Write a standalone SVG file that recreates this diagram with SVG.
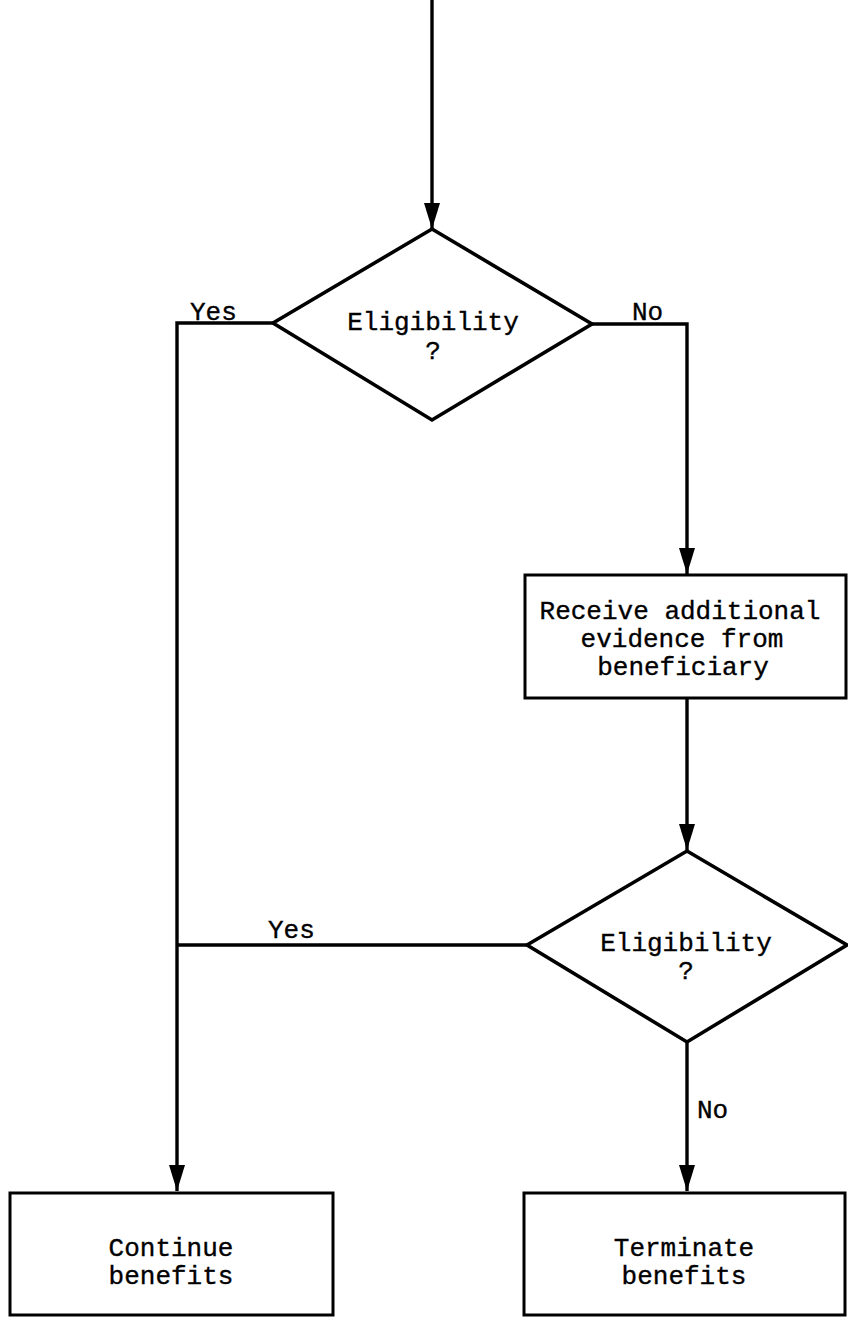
<svg xmlns="http://www.w3.org/2000/svg" width="848" height="1317" viewBox="0 0 848 1317">
<style>
.shape{fill:#fff;stroke:#000;stroke-width:3.6;stroke-linejoin:miter}
.box{fill:#fff;stroke:#000;stroke-width:3}
.conn{fill:none;stroke:#000;stroke-width:3.4}
text{font-family:"Liberation Mono","Courier New",monospace;font-size:26px;fill:#000;stroke:#000;stroke-width:0.35}
.c{text-anchor:middle}
</style>
<defs>
<marker id="arrow" markerUnits="userSpaceOnUse" markerWidth="28" markerHeight="20" viewBox="0 -9 28 18" refX="26" refY="0" orient="auto">
<path d="M0,-8 L26,0 L0,8 Z" fill="#000"/>
</marker>
</defs>
<rect width="848" height="1317" fill="#fff"/>
<g id="connectors">
<path class="conn" d="M432,0 V229" marker-end="url(#arrow)"/>
<path class="conn" d="M273,323 H177 V1191" marker-end="url(#arrow)"/>
<path class="conn" d="M592,324 H687 V574" marker-end="url(#arrow)"/>
<path class="conn" d="M687,698 V850" marker-end="url(#arrow)"/>
<path class="conn" d="M527,945 H177"/>
<path class="conn" d="M687,1042 V1191" marker-end="url(#arrow)"/>
<text x="190" y="320">Yes</text>
<text x="632" y="320">No</text>
<text x="268" y="938">Yes</text>
<text x="697" y="1118">No</text>
</g>
<g id="decision1">
<polygon class="shape" points="432,229 592,324 432,420 273,323"/>
<text class="c" x="433" y="330">Eligibility</text>
<text class="c" x="433" y="359">?</text>
</g>
<g id="receive">
<rect class="box" x="525" y="575" width="321" height="123"/>
<text class="c" x="680" y="619">Receive additional</text>
<text class="c" x="682" y="647">evidence from</text>
<text class="c" x="683" y="675">beneficiary</text>
</g>
<g id="decision2">
<polygon class="shape" points="687,851 847,945 687,1042 527,945"/>
<text class="c" x="686" y="951">Eligibility</text>
<text class="c" x="686" y="979">?</text>
</g>
<g id="continue">
<rect class="box" x="10" y="1193" width="323" height="122"/>
<text class="c" x="171" y="1256">Continue</text>
<text class="c" x="171" y="1284">benefits</text>
</g>
<g id="terminate">
<rect class="box" x="524" y="1193" width="321" height="122"/>
<text class="c" x="684" y="1256">Terminate</text>
<text class="c" x="684" y="1284">benefits</text>
</g>
</svg>
